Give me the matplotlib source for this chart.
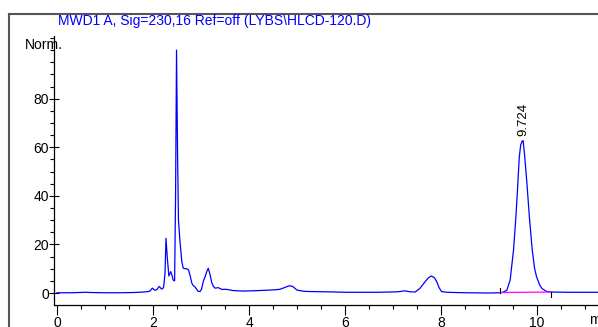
import matplotlib
matplotlib.use("Agg")
import matplotlib.pyplot as plt
from matplotlib.lines import Line2D
from matplotlib.ticker import MultipleLocator, FixedLocator

plt.rcParams['font.family'] = ['Liberation Sans', 'DejaVu Sans']

# chromatogram trace (retention time in min, signal in Norm.)
times = [0.0, 0.3, 0.6, 0.7, 1.0, 1.3, 1.6, 1.8, 1.9, 1.94, 1.985, 2.04, 2.08,
         2.13, 2.18, 2.22, 2.25, 2.27, 2.30, 2.33, 2.37, 2.40, 2.42, 2.45, 2.47,
         2.49, 2.51, 2.53, 2.56, 2.60, 2.63, 2.67, 2.70, 2.74, 2.77, 2.81, 2.84,
         2.875, 2.91, 2.94, 2.98, 3.01, 3.05, 3.08, 3.12, 3.15, 3.19, 3.22, 3.25,
         3.29, 3.36, 3.43, 3.53, 3.67, 3.875, 4.15, 4.43, 4.64, 4.75, 4.84, 4.91,
         5.0, 5.14, 5.27, 5.6, 6.0, 6.5, 6.73, 7.1, 7.25, 7.35, 7.46, 7.56, 7.67,
         7.74, 7.80, 7.86, 7.91, 7.96, 8.01, 8.12, 8.5, 9.0, 9.25, 9.30, 9.37,
         9.44, 9.51, 9.56, 9.60, 9.63, 9.66, 9.69, 9.71, 9.74, 9.79, 9.84, 9.90,
         9.95, 9.99, 10.05, 10.10, 10.2, 10.3, 10.6, 11.0, 11.3]
signal = [0.1, 0.1, 0.3, 0.2, 0.1, 0.1, 0.2, 0.4, 0.6, 0.9, 2.0, 1.1, 1.4,
          2.7, 1.6, 2.2, 8.0, 22.5, 14.0, 7.0, 8.8, 7.0, 5.3, 5.0, 40.0,
          100.0, 60.0, 30.0, 21.8, 12.9, 10.2, 10.0, 10.0, 9.5, 7.4, 4.0, 3.0,
          2.5, 1.5, 0.7, 0.6, 1.5, 5.0, 6.4, 8.8, 10.2, 7.5, 4.5, 3.0,
          2.0, 2.2, 1.5, 1.5, 1.0, 0.8, 0.95, 1.2, 1.5, 2.3, 3.0, 2.7,
          1.2, 0.7, 0.6, 0.5, 0.3, 0.3, 0.3, 0.5, 0.9, 0.5, 0.4, 1.9, 4.7,
          6.3, 7.0, 6.3, 4.7, 2.2, 0.6, 0.3, 0.1, 0.0, 0.1, 0.4, 1.1,
          5.3, 17.7, 31.4, 45.0, 56.0, 61.0, 62.5, 62.7, 57.0, 45.0, 31.4, 17.7,
          10.0, 6.7, 3.5, 1.9, 0.6, 0.4, 0.3, 0.3, 0.3]

# integration baseline of the labelled peak
base_t = [9.23, 10.29]
base_y = [0.2, 0.4]
peak_rt = 9.724
peak_h = 62.7
peak_label = "9.724"

title = "MWD1 A, Sig=230,16 Ref=off (LYBS\\HLCD-120.D)"
ytick_vals = [0, 20, 40, 60, 80]
xtick_vals = [0, 2, 4, 6, 8, 10]

W, H = 598, 327
fig = plt.figure(figsize=(W / 100, H / 100), dpi=100)
ax = fig.add_axes([54 / W, 22 / H, 544 / W, 269 / H])

ax.plot(times, signal, color='#0000ff', lw=0.9, solid_joinstyle='round')
ax.plot(base_t, base_y, color='#ff00ff', lw=0.9)
# start / end tick marks of integration
ax.plot([base_t[0], base_t[0]], [base_y[0], base_y[0] + 2.0], color='black', lw=0.8)
ax.plot([base_t[1], base_t[1]], [base_y[1], base_y[1] - 2.0], color='black', lw=0.8)

ax.text(peak_rt, peak_h + 2.0, peak_label, rotation=90, ha='center', va='bottom',
        fontsize=9.5, color='black')

ax.set_xlim(-0.0625, 11.27)
ax.set_ylim(-4.94, 105.8)

for s in ['top', 'right']:
    ax.spines[s].set_visible(False)
for s in ['left', 'bottom']:
    ax.spines[s].set_linewidth(0.9)
    ax.spines[s].set_color('black')

ax.xaxis.set_major_locator(FixedLocator(xtick_vals))
ax.xaxis.set_minor_locator(MultipleLocator(0.5))
ax.yaxis.set_major_locator(FixedLocator(ytick_vals))
ax.yaxis.set_minor_locator(MultipleLocator(5))

ax.tick_params(axis='x', which='major', direction='out', length=7, width=0.8, pad=1,
               labelsize=10)
ax.tick_params(axis='x', which='minor', direction='out', length=3, width=0.8)
ax.tick_params(axis='y', which='major', direction='inout', length=7, width=0.8, pad=0,
               labelsize=10)
ax.tick_params(axis='y', which='minor', direction='out', length=3, width=0.8)

# title and unit labels
fig.text(58 / W, 1 - 21 / H, title, color='#0000ff', fontsize=10,
         ha='left', va='center')
fig.text(25 / W, 1 - 45 / H, "Norm.", color='black', fontsize=10,
         ha='left', va='center')
fig.text(589 / W, 1 - 320 / H, "min", color='black', fontsize=10,
         ha='left', va='center')

# outer gray frame
fig.add_artist(Line2D([8.5 / W, 8.5 / W], [0, 1 - 13.5 / H], transform=fig.transFigure,
                      color='#555555', lw=1.5))
fig.add_artist(Line2D([8.5 / W, 1], [1 - 13.5 / H, 1 - 13.5 / H], transform=fig.transFigure,
                      color='#555555', lw=1.5))

fig.savefig("out.png", dpi=100)
